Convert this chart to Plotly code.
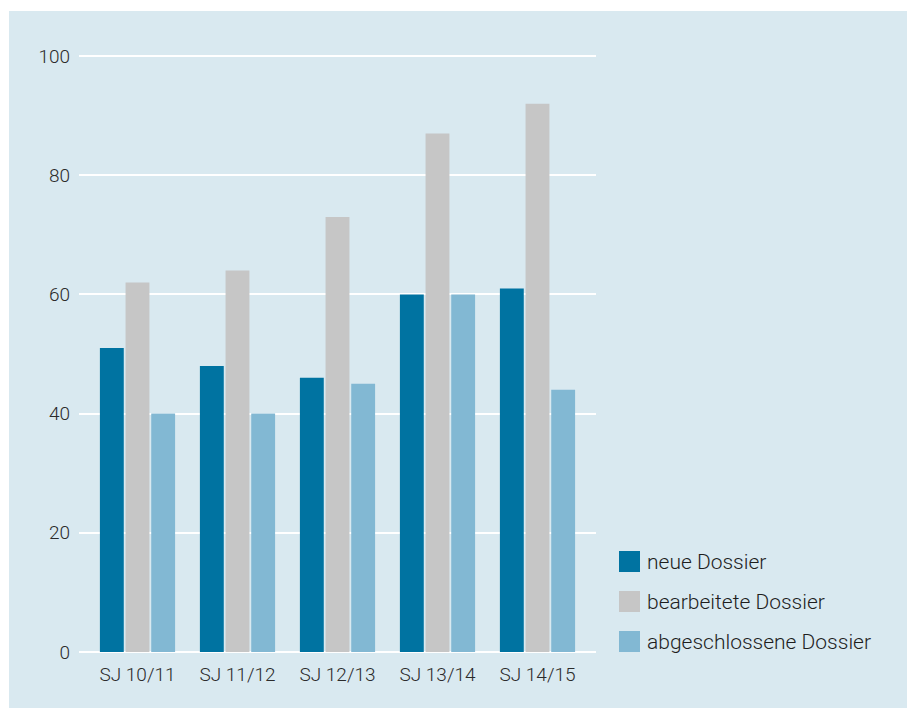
import plotly.graph_objects as go

# School years and dossier counts
years = ["SJ 10/11", "SJ 11/12", "SJ 12/13", "SJ 13/14", "SJ 14/15"]
neue = [51, 48, 46, 60, 61]
bearbeitete = [62, 64, 73, 87, 92]
abgeschlossene = [40, 40, 45, 60, 44]

series_names = ["neue Dossier", "bearbeitete Dossier", "abgeschlossene Dossier"]
series_colors = ["#0073a1", "#c6c6c6", "#82b8d3"]

W, H = 909, 708
Y_MAX = 100.5
L, R, B = 79, 909 - 596, 708 - 652
T = round(652 - 5.96 * Y_MAX)
plot_w = W - L - R
plot_h = H - T - B


def px_x(x):
    return (x - L) / plot_w


def px_y(y):
    return (H - B - y) / plot_h


fig = go.Figure()
for name, vals, col in zip(series_names, [neue, bearbeitete, abgeschlossene], series_colors):
    fig.add_trace(go.Bar(
        x=years, y=vals, name=name, marker=dict(color=col, line=dict(width=0)),
        showlegend=False,
    ))

# light blue panel behind the chart
fig.add_shape(
    type="rect", xref="paper", yref="paper", layer="below",
    x0=px_x(9), x1=px_x(907), y0=px_y(708), y1=px_y(11),
    fillcolor="#d9e9f0", line=dict(width=0),
)

font_family = "Roboto, 'Open Sans', sans-serif"
tick_font = dict(family=font_family, size=19, color="#2b2b2b", weight=300)

# legend: coloured squares with labels
for i, (name, col) in enumerate(zip(series_names, series_colors)):
    top = 551 + 40 * i
    fig.add_shape(
        type="rect", xref="paper", yref="paper",
        x0=px_x(619), x1=px_x(640), y0=px_y(top + 21), y1=px_y(top),
        fillcolor=col, line=dict(width=0),
    )
    fig.add_annotation(
        xref="paper", yref="paper", x=px_x(645), y=px_y(top + 11),
        xanchor="left", yanchor="middle", showarrow=False, text=name,
        font=dict(family=font_family, size=21, color="#1e1e1e", weight=300),
    )

fig.update_layout(
    width=W, height=H,
    margin=dict(l=L, r=R, t=T, b=B, pad=0),
    paper_bgcolor="white", plot_bgcolor="rgba(0,0,0,0)",
    barmode="group", bargap=0.23, bargroupgap=0.07,
    font=tick_font,
    showlegend=False,
    xaxis=dict(
        range=[-0.585, 4.585], showgrid=False, zeroline=False, showline=False,
        ticks="", tickfont=tick_font, ticklabelstandoff=9,
    ),
    yaxis=dict(
        range=[0, Y_MAX], tickvals=[0, 20, 40, 60, 80, 100],
        showgrid=True, gridcolor="white", gridwidth=2,
        zeroline=True, zerolinecolor="white", zerolinewidth=2,
        showline=False, ticks="", tickfont=tick_font,
        ticklabelstandoff=8,
    ),
)

fig.write_html("out.html")
